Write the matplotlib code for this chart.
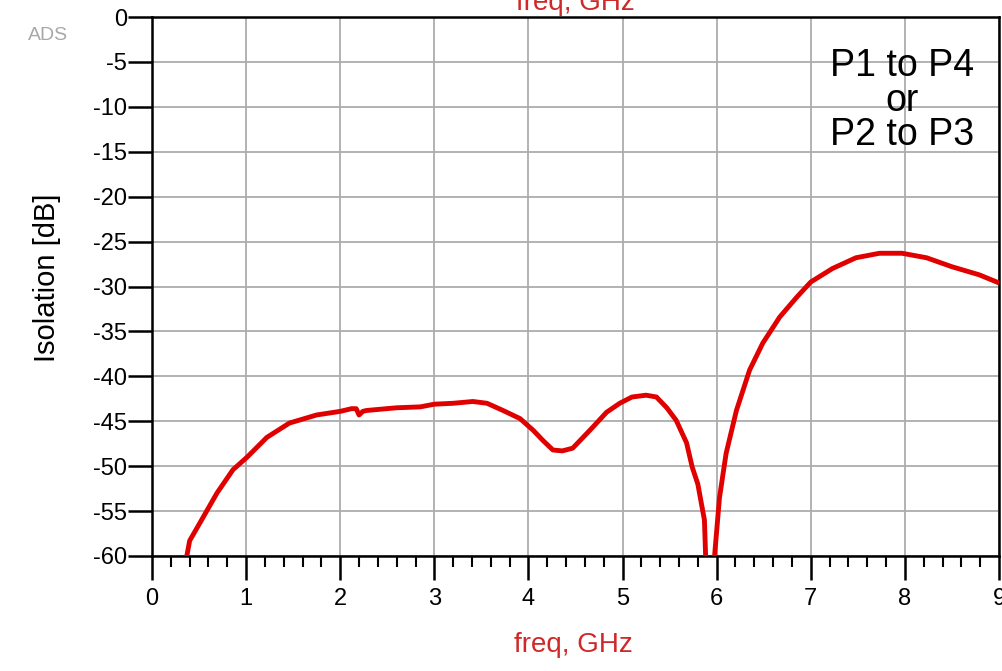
import matplotlib
matplotlib.use("Agg")
import matplotlib.pyplot as plt
from matplotlib.ticker import MultipleLocator

plt.rcParams['font.family'] = ['Liberation Sans', 'DejaVu Sans']

freq_ghz = [0.37, 0.40, 0.51, 0.69, 0.86, 1.01, 1.22, 1.46, 1.75, 2.00, 2.12, 2.17,
            2.20, 2.24, 2.28, 2.60, 2.85, 3.00, 3.20, 3.41, 3.56, 3.73, 3.91, 4.05,
            4.15, 4.26, 4.36, 4.47, 4.58, 4.68, 4.83, 4.97, 5.10, 5.25, 5.36, 5.47,
            5.57, 5.68, 5.74, 5.80, 5.87, 5.93, 5.98, 6.03, 6.10, 6.21, 6.35, 6.49,
            6.67, 6.85, 7.00, 7.23, 7.48, 7.73, 7.97, 8.23, 8.50, 8.79, 9.00]
isolation_db = [-60.0, -58.3, -56.3, -53.0, -50.4, -49.0, -46.8, -45.2, -44.3, -43.9, -43.6, -43.6,
                -44.3, -43.9, -43.8, -43.5, -43.4, -43.1, -43.0, -42.8, -43.0, -43.8, -44.7, -46.0,
                -47.1, -48.2, -48.3, -48.0, -46.8, -45.7, -44.0, -43.0, -42.3, -42.1, -42.3, -43.5,
                -44.9, -47.4, -50.1, -52.0, -56.0, -75.0, -59.7, -53.5, -48.6, -43.8, -39.3, -36.3,
                -33.4, -31.2, -29.5, -28.0, -26.8, -26.3, -26.3, -26.8, -27.8, -28.7, -29.6]

x_ticks = [0, 1, 2, 3, 4, 5, 6, 7, 8, 9]
y_ticks = [0, -5, -10, -15, -20, -25, -30, -35, -40, -45, -50, -55, -60]

W, H = 1003, 671
fig = plt.figure(figsize=(W / 100, H / 100), dpi=100)
ax = fig.add_axes([152 / W, 1 - 556 / H, (999 - 152) / W, (556 - 17) / H])

ax.plot(freq_ghz, isolation_db, color='#e00000', lw=3.5, solid_joinstyle='round',
        solid_capstyle='butt', zorder=3)

ax.set_xlim(0, 9)
ax.set_ylim(-60, 0)
ax.set_xticks(x_ticks)
ax.set_yticks(y_ticks)
ax.set_yticklabels([str(v) for v in y_ticks])
ax.xaxis.set_minor_locator(MultipleLocator(0.2))
ax.grid(True, which='major', color='#acacac', lw=1.3)
ax.set_axisbelow(True)

for s in ax.spines.values():
    s.set_linewidth(1.8)
    s.set_color('black')

ax.tick_params(axis='both', which='major', direction='out', length=17, width=1.8,
               labelsize=17, colors='black')
ax.tick_params(axis='y', which='major', pad=1)
ax.tick_params(axis='x', which='major', pad=6)
ax.tick_params(axis='x', which='minor', direction='out', length=8, width=1.5)

ax.text(7.97, -9.3, 'P1 to P4\nor\nP2 to P3', fontsize=27, ha='center', va='center',
        linespacing=0.95, color='black', zorder=4)

fig.text(47 / W, 1 - 278 / H, 'Isolation [dB]', fontsize=21, rotation=90,
         ha='center', va='center', color='black')
fig.text(573 / W, 1 - 645 / H, 'freq, GHz', fontsize=20, color='#d02828',
         ha='center', va='center')
fig.text(575 / W, 1 - 10 / H, 'freq, GHz', fontsize=20, color='#d02828',
         ha='center', va='baseline')
fig.text(48 / W, 1 - 35 / H, 'ADS', fontsize=14, color='#a8a8a8', ha='center', va='center')

fig.savefig('out.png', dpi=100)
